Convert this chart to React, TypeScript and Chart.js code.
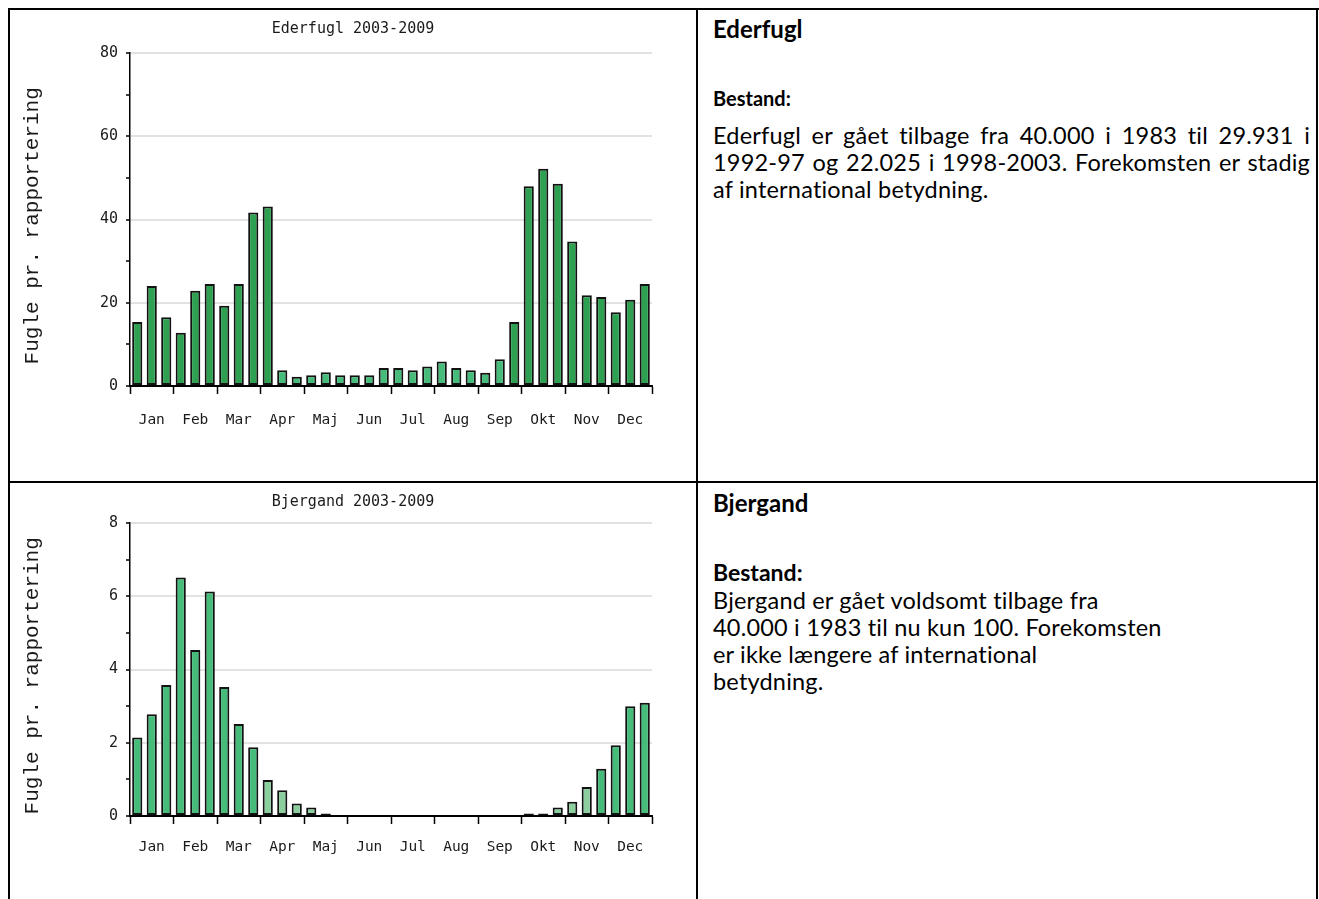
import React, { useEffect, useRef } from 'react';
import { Chart, registerables } from 'chart.js';

Chart.register(...registerables);

const months = ['Jan', 'Feb', 'Mar', 'Apr', 'Maj', 'Jun', 'Jul', 'Aug', 'Sep', 'Okt', 'Nov', 'Dec'];

// three bars per month (10-day periods)
const ederfuglValues = [
  15.4, 24.0, 16.5, 12.8, 22.9, 24.5, 19.3, 24.5, 41.7,
  43.1, 3.8, 2.2, 2.6, 3.3, 2.6, 2.6, 2.6, 4.3,
  4.3, 3.8, 4.7, 5.9, 4.3, 3.8, 3.2, 6.4, 15.4,
  48.0, 52.2, 48.6, 34.7, 21.8, 21.4, 17.7, 20.7, 24.5,
];
// data level per bar (2 = many reports, 1 = medium, 0 = few)
const ederfuglLevels = [
  2, 2, 2, 2, 2, 2, 2, 2, 2,
  2, 1, 1, 1, 1, 1, 1, 1, 1,
  1, 1, 1, 1, 1, 1, 1, 1, 2,
  2, 2, 2, 2, 2, 2, 2, 2, 2,
];
const ederfuglYMax = 80;
const ederfuglYMajor = 20;
const ederfuglYMinor = 10;

const bjergandValues = [
  2.14, 2.78, 3.58, 6.51, 4.53, 6.13, 3.52, 2.51, 1.88,
  0.98, 0.7, 0.34, 0.23, 0.07, 0, 0, 0, 0,
  0, 0, 0, 0, 0, 0, 0, 0, 0,
  0.07, 0.07, 0.23, 0.39, 0.79, 1.29, 1.93, 3.0, 3.09,
];
const bjergandLevels = [
  1, 1, 1, 1, 1, 1, 1, 1, 1,
  0, 0, 0, 0, 1, 1, 1, 1, 1,
  1, 1, 1, 1, 1, 1, 1, 1, 1,
  1, 1, 0, 0, 0, 1, 1, 1, 1,
];
const bjergandYMax = 8;
const bjergandYMajor = 2;
const bjergandYMinor = 1;

const yAxisTitle = 'Fugle pr. rapportering ';

const palette = ['#8bcf9f', '#46bc7a', '#2ea052'];
const monoFont = '"DejaVu Sans Mono", monospace';

type ChartProps = {
  title: string;
  values: number[];
  levels: number[];
  yMax: number;
  yMajor: number;
  yMinor: number;
  left: number;
  top: number;
  width: number;
  height: number;
  areaLeft: number;
  areaRight: number;
  areaTop: number;
  areaBottom: number;
  titleCenter: number;
  labelPad: number;
};

function BarChart(p: ChartProps) {
  const ref = useRef<HTMLCanvasElement>(null);
  useEffect(() => {
    const titleLH = 18;
    const chart = new Chart(ref.current!, {
      type: 'bar',
      data: {
        labels: p.values.map((_, i) => months[Math.floor(i / 3)]),
        datasets: [
          {
            data: p.values,
            backgroundColor: p.levels.map((l) => palette[l]),
            borderColor: '#121212',
            borderWidth: 2,
            borderSkipped: false,
            barPercentage: 0.7,
            categoryPercentage: 1,
          },
        ],
      },
      options: {
        responsive: false,
        animation: false,
        devicePixelRatio: 1,
        layout: { padding: 0 },
        plugins: {
          legend: { display: false },
          tooltip: { enabled: false },
          title: {
            display: true,
            text: p.title,
            color: '#1a1a1a',
            font: { family: monoFont, size: 15, weight: 'normal', lineHeight: titleLH / 15 },
            padding: { top: p.titleCenter - titleLH / 2, bottom: p.areaTop - (p.titleCenter + titleLH / 2) },
          },
        },
        scales: {
          x: {
            grid: {
              offset: true,
              drawOnChartArea: false,
              drawTicks: true,
              tickLength: 8,
              tickWidth: 1.5,
              tickColor: (ctx: any) =>
                ctx.index === undefined || ctx.index % 3 === 0 ? '#000' : 'rgba(0,0,0,0)',
            },
            border: { color: '#000', width: 2 },
            ticks: {
              autoSkip: false,
              maxRotation: 0,
              minRotation: 0,
              padding: p.labelPad,
              color: '#1a1a1a',
              font: { family: monoFont, size: 14.5 },
              callback: (_v: any, i: number) => (i % 3 === 1 ? months[Math.floor(i / 3)] : ''),
            },
            afterFit: (s: any) => {
              s.height = p.height - p.areaBottom;
            },
          },
          y: {
            min: 0,
            max: p.yMax,
            ticks: {
              stepSize: p.yMinor,
              padding: 8,
              color: '#1a1a1a',
              font: { family: monoFont, size: 15 },
              callback: (v: any) => (Number(v) % p.yMajor === 0 ? String(v) : ''),
            },
            grid: {
              lineWidth: 2,
              color: (ctx: any) =>
                ctx.tick && ctx.tick.value % p.yMajor === 0 && ctx.tick.value > 0
                  ? '#e2e2e2'
                  : 'rgba(0,0,0,0)',
              tickColor: '#000',
              tickLength: 4,
              tickWidth: 1.5,
            },
            border: { color: '#000', width: 1.5 },
            title: {
              display: true,
              text: yAxisTitle,
              color: '#1a1a1a',
              font: { family: '"Liberation Mono", monospace', size: 21 },
              padding: { top: 10, bottom: 0 },
            },
            afterFit: (s: any) => {
              s.width = p.areaLeft;
            },
          },
          yRight: {
            type: 'linear',
            position: 'right',
            display: true,
            grid: { display: false, drawTicks: false },
            border: { display: false },
            ticks: { display: false },
            afterFit: (s: any) => {
              s.width = p.width - p.areaRight;
            },
          },
        },
      },
    } as any);
    return () => chart.destroy();
  }, []);
  return (
    <canvas
      ref={ref}
      width={p.width}
      height={p.height}
      style={{ position: 'absolute', left: p.left, top: p.top, width: p.width, height: p.height }}
    />
  );
}

const textFont = 'Lato, "Open Sans", sans-serif';

function Line({ top, size, bold, children, width, justify }: any) {
  return (
    <div
      style={{
        position: 'absolute',
        left: 713,
        top: top - 15,
        height: 30,
        lineHeight: '30px',
        fontFamily: textFont,
        fontSize: size,
        fontWeight: bold ? 700 : 400,
        letterSpacing: bold ? 0 : 0.2,
        color: '#000',
        whiteSpace: 'nowrap',
        width: width,
        textAlign: justify ? 'justify' : 'left',
        textAlignLast: justify ? 'justify' : 'left',
      } as any}
    >
      {children}
    </div>
  );
}

export default function App() {
  const line = (x: number, y: number, w: number, h: number) => (
    <div style={{ position: 'absolute', left: x, top: y, width: w, height: h, background: '#000' }} />
  );
  return (
    <div
      style={{
        position: 'fixed',
        left: 0,
        top: 0,
        width: 1319,
        height: 899,
        overflow: 'hidden',
        background: '#fff',
      }}
    >
      <BarChart
        title="Ederfugl 2003-2009"
        values={ederfuglValues}
        levels={ederfuglLevels}
        yMax={ederfuglYMax}
        yMajor={ederfuglYMajor}
        yMinor={ederfuglYMinor}
        left={10}
        top={10}
        width={686}
        height={472}
        areaLeft={120}
        areaRight={642}
        areaTop={43}
        areaBottom={376}
        titleCenter={19}
        labelPad={18}
      />
      <BarChart
        title="Bjergand 2003-2009"
        values={bjergandValues}
        levels={bjergandLevels}
        yMax={bjergandYMax}
        yMajor={bjergandYMajor}
        yMinor={bjergandYMinor}
        left={10}
        top={484}
        width={686}
        height={415}
        areaLeft={120}
        areaRight={642}
        areaTop={39}
        areaBottom={332}
        titleCenter={18}
        labelPad={15}
      />
      {line(8, 8, 1311, 2)}
      {line(8, 8, 2, 891)}
      {line(696, 8, 2, 891)}
      {line(1316, 8, 2, 891)}
      {line(8, 481, 1310, 2)}

      <Line top={29} size={24} bold>Ederfugl</Line>
      <Line top={98} size={20} bold>Bestand:</Line>
      <Line top={135} size={23.5} width={597} justify>
        Ederfugl er gået tilbage fra 40.000 i 1983 til 29.931 i
      </Line>
      <Line top={162} size={23.5} width={597} justify>
        1992-97 og 22.025 i 1998-2003. Forekomsten er stadig
      </Line>
      <Line top={189} size={23.5}>af international betydning.</Line>

      <Line top={503} size={24} bold>Bjergand</Line>
      <Line top={572} size={23} bold>Bestand:</Line>
      <Line top={600} size={23.5}>Bjergand er gået voldsomt tilbage fra</Line>
      <Line top={627} size={23.5}>40.000 i 1983 til nu kun 100. Forekomsten</Line>
      <Line top={654} size={23.5}>er ikke længere af international</Line>
      <Line top={681} size={23.5}>betydning.</Line>
    </div>
  );
}
